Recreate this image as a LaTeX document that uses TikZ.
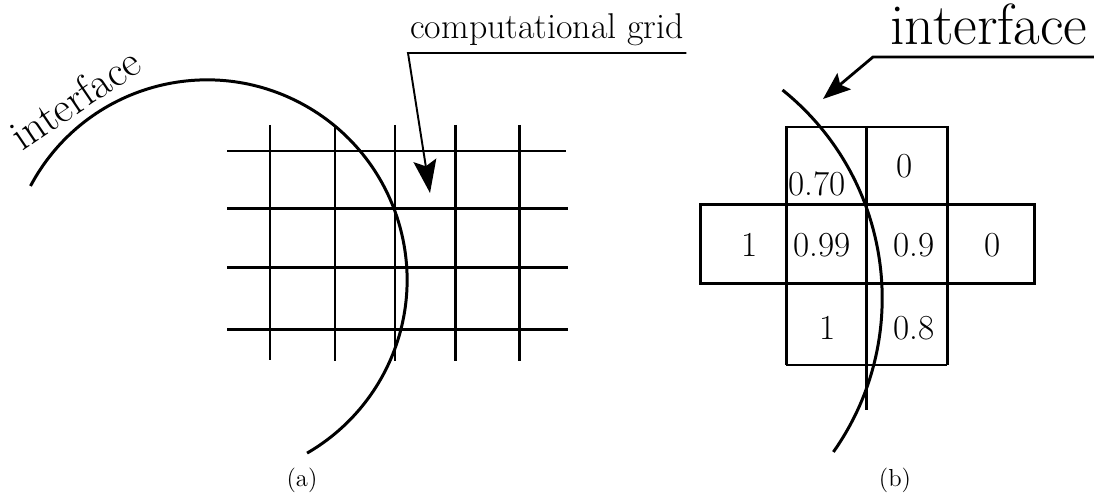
\documentclass[tikz,border=0pt]{standalone}
\usepackage{tikz}
\usetikzlibrary{arrows.meta,positioning}

\begin{document}
\begin{tikzpicture}[
	gridline/.style={line width=1.7pt},
	thinline/.style={line width=0.8pt},
	iface/.style={line width=1.7pt},
	pointer/.style={-{Stealth[length=0.66cm, width=0.46cm, inset=0.12cm]}, line width=1.1pt},
	value/.style={inner sep=0pt, font=\fontsize{20}{24}\selectfont},
	callout/.style={inner sep=0pt, anchor=base west},
	caption/.style={font=\fontsize{14}{16}\selectfont}
	]
	\useasboundingbox (0,0) rectangle (21.88,9.88);
	
	% (a) computational grid
	\begin{scope}
		\draw[thinline] (4.54,6.86) -- (11.32,6.86);
		\foreach \y in {5.70,4.52,3.28}
			\draw[gridline] (4.54,\y) -- (11.36,\y);
		\draw[line width=1.2pt] (5.40,7.38) -- (5.40,2.68);
		\foreach \x in {6.70,7.90,9.10,10.38}
			\draw[gridline] (\x,7.38) -- (\x,2.66);
		\draw[iface] (0.61,6.16) arc[start angle=152, end angle=-60, radius=4];
		\node[rotate=34, inner sep=0pt, font=\fontsize{24.5}{28}\selectfont] (ifaceA) at (1.50,7.92) {interface};
		\node[callout, font=\fontsize{20.4}{24}\selectfont] (cg) at (8.20,9.10) {computational grid};
		\coordinate (cgtip) at (8.60,6.02);
		\draw[pointer] ([xshift=0.04cm,yshift=-0.28cm]cg.base east) -- ([xshift=-0.04cm,yshift=-0.28cm]cg.base west) -- (cgtip);
		\node[caption] (capA) at (6.04,0.28) {(a)};
	\end{scope}
	
	% (b) volume fractions
	\begin{scope}
		\draw[thinline] (15.72,7.34) -- (18.94,7.34);
		\draw[gridline] (15.72,7.36) -- (15.72,2.58);
		\draw[gridline] (17.32,7.36) -- (17.32,1.68);
		\draw[gridline] (18.94,7.36) -- (18.94,2.58);
		\draw[gridline] (14.00,5.78) rectangle (20.68,4.20);
		\draw[line width=1.2pt] (15.72,2.58) -- (18.94,2.58);
		\node[value] (v070) at (16.34,6.20) {0.70};
		\node[value] (v0a) at (18.10,6.56) {0};
		\node[value] (v1a) at (15.00,4.98) {1};
		\node[value] (v099) at (16.44,4.98) {0.99};
		\node[value] (v09) at (18.28,4.98) {0.9};
		\node[value] (v0b) at (19.86,4.98) {0};
		\node[value] (v1b) at (16.56,3.32) {1};
		\node[value] (v08) at (18.28,3.32) {0.8};
		\draw[iface] (15.65,8.08) arc[start angle=51.2, end angle=-35.2, radius=5.34];
		\node[callout, font=\fontsize{33}{38}\selectfont] (ifaceB) at (17.80,8.98) {interface};
		\coordinate (ifacetip) at (16.46,7.90);
		\draw[pointer, line width=1.6pt, -{Stealth[length=0.55cm, width=0.42cm, inset=0.1cm]}] ([xshift=0.2cm,yshift=-0.24cm]ifaceB.base east) -- ([xshift=-0.34cm,yshift=-0.24cm]ifaceB.base west) -- (ifacetip);
		\node[caption] (capB) at (17.90,0.28) {(b)};
	\end{scope}
	
\end{tikzpicture}
\end{document}
